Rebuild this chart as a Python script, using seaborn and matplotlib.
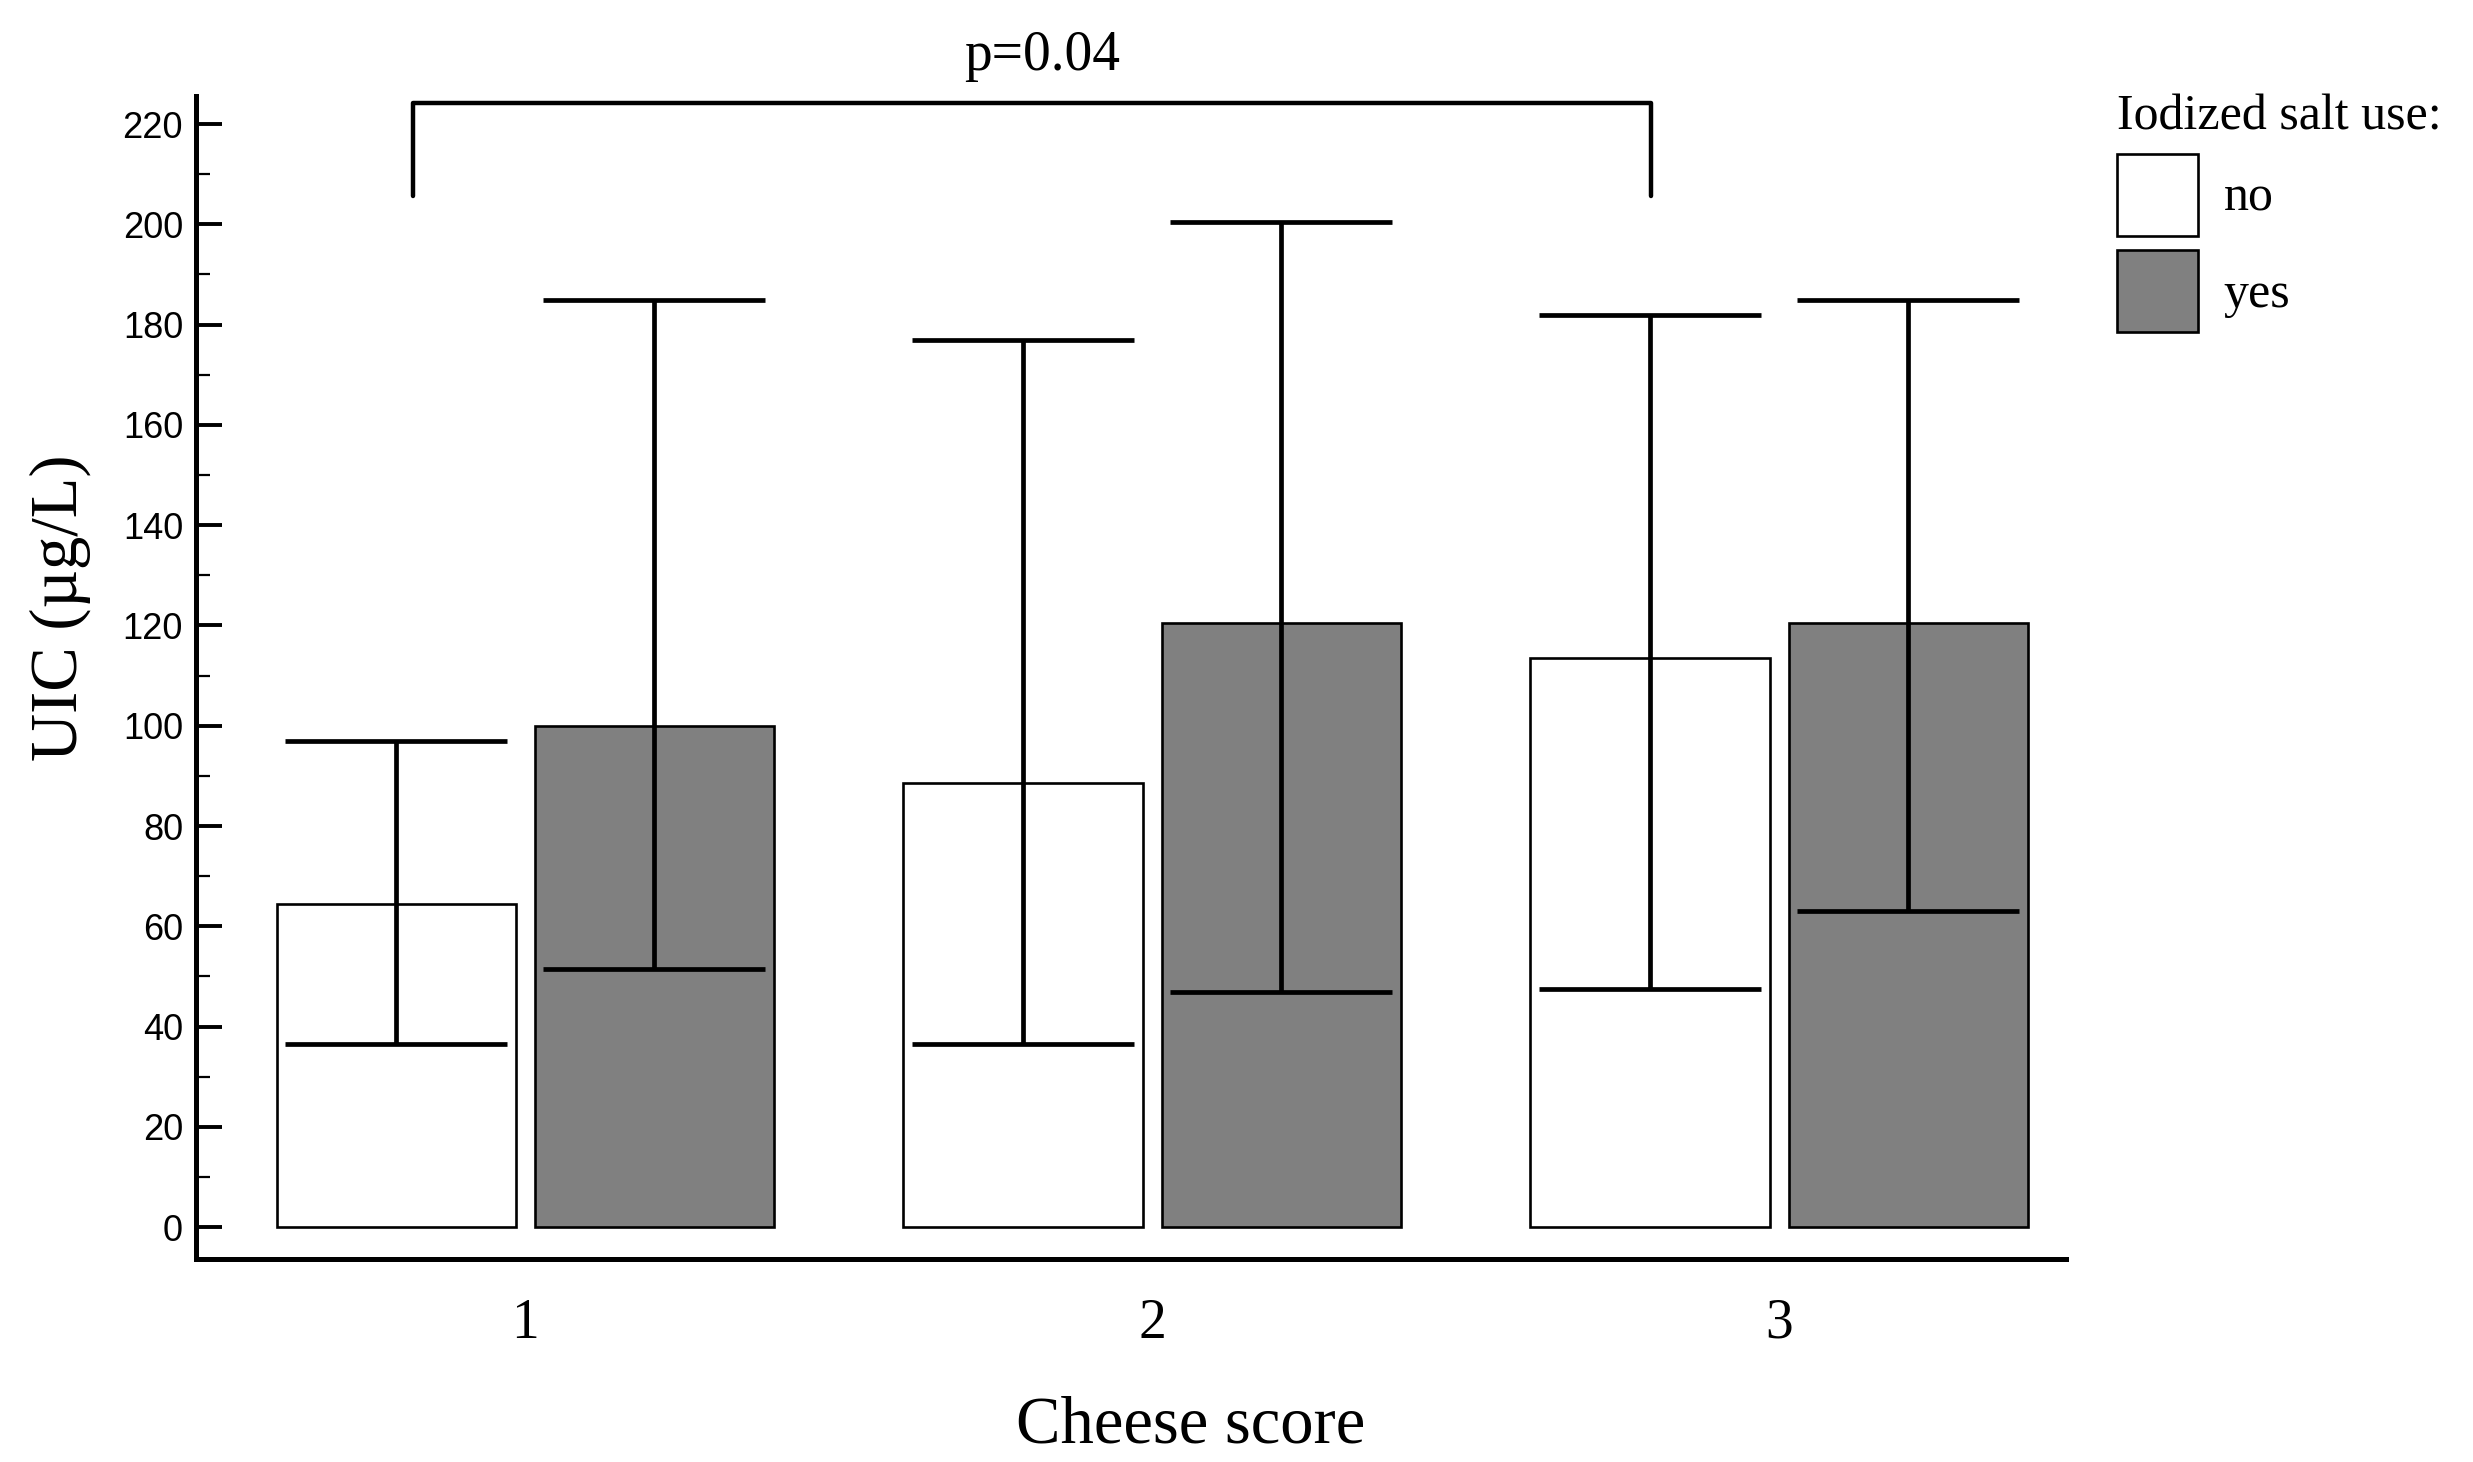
import numpy as np
import pandas as pd
import seaborn as sns
from matplotlib import pyplot as plt
from matplotlib.ticker import MultipleLocator

# data (bar = median, whiskers = IQR)
cheese_score = ['1', '2', '3']
salt_levels = ['no', 'yes']
median_no = [64.5, 88.5, 113.5]
median_yes = [100, 120.5, 120.5]
q1_no = [36.5, 36.5, 47.5]
q1_yes = [51.5, 47, 63]
q3_no = [97, 177, 182]
q3_yes = [185, 200.5, 185]
p_text = 'p=0.04'

df = pd.DataFrame({
    'score': cheese_score * 2,
    'salt': ['no'] * 3 + ['yes'] * 3,
    'median': median_no + median_yes,
    'q1': q1_no + q1_yes,
    'q3': q3_no + q3_yes,
})

sns.set_style('ticks', rc={'axes.edgecolor': 'black', 'xtick.color': 'black',
                           'ytick.color': 'black', 'text.color': 'black',
                           'axes.labelcolor': 'black'})
serif = 'Liberation Serif'
sans = 'Liberation Sans'

fig = plt.figure(figsize=(24.73, 14.62), dpi=100)
ax = fig.add_axes([0.0791, 0.139, 0.7564, 0.795])

sns.barplot(data=df, x='score', y='median', hue='salt', hue_order=salt_levels,
            palette={'no': 'white', 'yes': '#808080'}, edgecolor='black',
            linewidth=1.9, width=0.824, gap=0.073, errorbar=None, ax=ax)

# asymmetric error bars (IQR), one container per hue level
for cont, lvl in zip(ax.containers, salt_levels):
    sub = df[df['salt'] == lvl]
    xs = [p.get_x() + p.get_width() / 2 for p in cont.patches]
    med = sub['median'].to_numpy()
    yerr = [med - sub['q1'].to_numpy(), sub['q3'].to_numpy() - med]
    ax.errorbar(xs, med, yerr=yerr, fmt='none', ecolor='black',
                elinewidth=3.4, capsize=80, capthick=3.4, zorder=3)

# significance bracket between score 1 and score 3
ax.plot([-0.18, -0.18, 1.795, 1.795], [205.7, 224.2, 224.2, 205.7],
        color='black', lw=3.2, clip_on=False)
ax.text(0.825, 233.5, p_text, ha='center', va='center', fontsize=40,
        family=serif, clip_on=False)

ax.set_ylim(-6.3, 225.5)
ax.set_xlim(-0.526, 2.458)
ax.yaxis.set_major_locator(MultipleLocator(20))
ax.yaxis.set_minor_locator(MultipleLocator(10))
ax.tick_params(axis='y', which='major', direction='in', length=19, width=2.8,
               pad=9, labelsize=26)
ax.tick_params(axis='y', which='minor', direction='in', length=10, width=1.6)
ax.tick_params(axis='x', length=0, pad=28, labelsize=40)
for lab in ax.get_yticklabels():
    lab.set_family(sans)
for lab in ax.get_xticklabels():
    lab.set_family(serif)

sns.despine(ax=ax)
for s in ['left', 'bottom']:
    ax.spines[s].set_linewidth(3.6)

ax.set_ylabel('UIC (µg/L)', fontsize=48, family=serif)
ax.yaxis.set_label_coords(-0.056, 0.56)
ax.set_xlabel('Cheese score', fontsize=48, family=serif)
ax.xaxis.set_label_coords(0.532, -0.118)

sns.move_legend(ax, loc='upper left', bbox_to_anchor=(0.856, 0.936),
                bbox_transform=fig.transFigure, title='Iodized salt use:',
                frameon=False, fontsize=36, title_fontsize=36,
                handlelength=1.63, handleheight=2.15, handletextpad=0.5,
                labelspacing=0.28, alignment='left', borderpad=0,
                borderaxespad=0)
leg = ax.get_legend()
for t in leg.get_texts():
    t.set_family(serif)
leg.get_title().set_family(serif)
for h in leg.legend_handles:
    h.set_edgecolor('black')
    h.set_linewidth(1.9)

fig.savefig('out.png', dpi=100)
